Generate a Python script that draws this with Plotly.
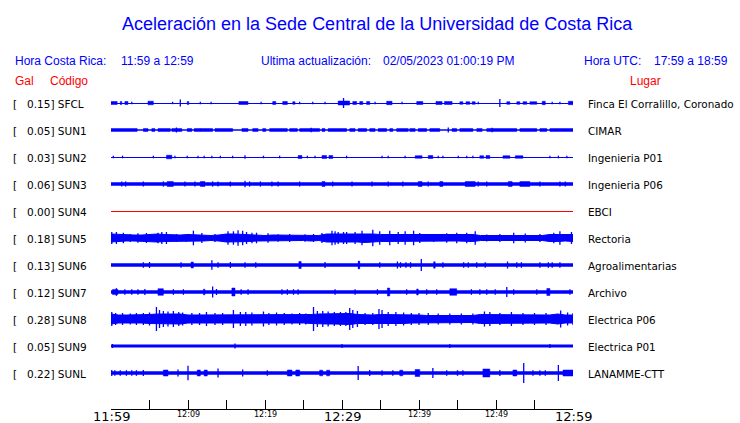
import plotly.graph_objects as go

# ---------------- data ----------------
STATIONS = ["SFCL", "SUN1", "SUN2", "SUN3", "SUN4", "SUN5", "SUN6", "SUN7", "SUN8", "SUN9", "SUNL"]
GAL = [0.15, 0.05, 0.03, 0.06, 0.00, 0.18, 0.13, 0.12, 0.28, 0.05, 0.22]
PLACES = ["Finca El Corralillo, Coronado", "CIMAR", "Ingenieria P01", "Ingenieria P06", "EBCI",
          "Rectoria", "Agroalimentarias", "Archivo", "Electrica P06", "Electrica P01", "LANAMME-CTT"]

TICK_MINUTES = [0, 5, 10, 15, 20, 25, 30, 35, 40, 45, 50, 55, 60]
TICK_LABELS = ["11:59", "", "12:09", "", "12:19", "", "12:29", "", "12:39", "", "12:49", "", "12:59"]
BIG_LABELS = ["11:59", "12:29", "12:59"]

# baseline half-amplitude of each trace (display units), None = envelope trace
BASE_AMP = [0.5, 0.75, 0.5, 1.7, 0.5, None, 1.8, 1.8, None, 1.5, 1.8]

# per-minute core envelope (minute 0..60) for the noisiest stations
SUN5_ENV = [4, 3.5, 3, 3, 3, 3.5, 4, 3.5, 3, 3, 3.5, 3, 3, 2.5, 3, 4, 4, 3.5, 3.5, 3, 2.5,
            3, 3, 2.5, 2.5, 2.5, 3, 2.5, 4, 4, 4, 4, 4, 4.5, 4, 3.5, 3.5, 3.5, 3.5, 3.5, 3,
            3, 3, 3, 3, 3, 3, 3.5, 2.5, 2.5, 2.5, 2.5, 3, 2.5, 2.5, 2.5, 2.5, 3.5, 3.5, 3, 3.5]
SUN8_ENV = [5, 4, 4, 4, 4, 4.5, 5, 5, 5, 5, 4, 4, 4.5, 4, 4, 4, 4.5, 4.5, 4.5, 4.5, 4.5,
            4, 4, 4, 4, 4, 4.5, 5, 5, 5, 5, 5.5, 4.5, 4, 4, 4.5, 4.5, 4.5, 4.5, 4, 4,
            3.5, 3.5, 3.5, 3.5, 3.5, 3.5, 3.5, 4.5, 4.5, 4, 4, 4, 4, 4, 4, 4, 4, 5, 4, 4]

# spikes: (minute, half-amplitude)
SFCL_SPIKES = [(2.7, 1.3), (8.0, 1.2), (9.0, 3.5), (11.6, 1.2), (13.0, 1.3), (19.5, 1.2), (24.5, 1.3),
               (26.2, 1.3), (27.8, 1.2), (30.2, 5.0), (34.3, 1.3), (37.8, 1.3), (47.7, 1.3), (50.5, 4.0),
               (57.3, 1.3), (58.3, 1.3)]
SUN1_SPIKES = [(8.5, 2.5), (26.0, 2.2), (43.8, 2.5), (49.5, 2.3)]
SUN2_SPIKES = [(0.3, 1.3), (1.5, 1.3), (5.5, 1.3), (8.3, 1.3), (9.9, 1.3), (11.3, 1.3), (12.1, 1.3),
               (13.1, 1.3), (14.2, 1.3), (15.8, 1.3), (17.4, 1.7), (19.8, 1.3), (21.9, 1.3), (25.5, 1.3),
               (26.5, 1.3), (30.6, 1.3), (35.2, 1.3), (36.0, 1.3), (38.2, 1.3), (42.5, 1.3), (43.1, 1.3),
               (45.1, 1.3), (46.2, 1.3), (47.0, 1.3), (57.0, 1.3), (58.1, 1.3), (59.2, 1.3)]
SUN3_SPIKES = [(1.4, 2.6), (1.9, 2.6), (4.2, 2.6), (6.8, 2.6), (9.6, 2.6), (10.9, 2.6), (13.2, 2.6),
               (13.9, 2.6), (15.5, 2.6), (17.4, 3.2), (18.0, 2.6), (19.4, 2.6), (20.9, 2.6), (21.7, 2.6),
               (24.5, 2.6), (28.8, 2.6), (31.3, 2.6), (33.9, 2.6), (36.0, 2.6), (37.9, 2.6), (41.2, 2.6),
               (47.7, 2.6), (48.8, 2.6), (55.7, 2.6), (58.3, 2.6), (59.0, 2.6)]
SUN4_SPIKES = []
SUN5_SPIKES = [(0.1, 6), (0.7, 6), (1.6, 5.3), (2.5, 4), (3.5, 4.7), (4.6, 5), (6.1, 5.3), (6.6, 6),
               (7.2, 6), (8.5, 4), (9.8, 3.8), (10.7, 7.3), (11.8, 5), (13.5, 4), (15.2, 6.7), (15.9, 6.7),
               (16.5, 7.7), (17.1, 7.3), (17.6, 6), (18.3, 5.3), (18.9, 5.3), (20.4, 4.7), (21.7, 3.8),
               (23.2, 4), (25.2, 3.8), (26.3, 4), (27.4, 5), (28.7, 7.3), (29.1, 6.7), (29.5, 6),
               (30.2, 6), (30.6, 6), (31.7, 6), (32.6, 7.3), (34.0, 8.3), (34.9, 6.7), (36.2, 7.3),
               (37.3, 6), (38.2, 6.7), (39.3, 7.3), (40.1, 5), (41.9, 4), (43.6, 4.7), (44.9, 5.3),
               (46.2, 5.3), (47.3, 6.7), (48.8, 3.5), (50.5, 4), (52.3, 5.3), (53.8, 4.5), (55.7, 4),
               (57.5, 5.3), (58.3, 6.7), (59.8, 6)]
SUN6_SPIKES = [(4.2, 2.7), (5.0, 3.0), (9.1, 2.8), (13.1, 4.7), (13.9, 2.8), (15.5, 3.0), (17.4, 2.8),
               (18.8, 2.8), (27.8, 3.0), (32.2, 4.0), (34.9, 2.8), (37.2, 3.5), (37.6, 2.8), (38.3, 2.8),
               (38.9, 2.8), (40.3, 6.0), (43.1, 2.8), (45.8, 2.8), (46.4, 2.8), (47.5, 2.8), (48.6, 2.8),
               (51.5, 3.5), (52.7, 2.8), (53.3, 2.8), (55.7, 2.8), (56.8, 2.8), (57.3, 2.8), (58.3, 2.8)]
SUN7_SPIKES = [(0.7, 3.8), (1.8, 2.7), (2.7, 2.7), (3.5, 2.7), (4.4, 3.0), (8.1, 2.8), (9.4, 2.8),
               (13.2, 5.5), (13.7, 3.0), (16.9, 2.8), (17.8, 2.8), (22.2, 2.8), (22.9, 2.8), (23.7, 2.8),
               (24.3, 2.8), (29.1, 2.8), (31.7, 2.8), (34.6, 2.8), (38.4, 2.8), (41.0, 2.8), (42.3, 2.8),
               (46.8, 2.8), (47.9, 2.8), (48.8, 2.8), (49.9, 2.8), (51.4, 5.0), (52.3, 2.8), (55.3, 2.8),
               (59.6, 2.8)]
SUN8_SPIKES = [(0.1, 7), (0.6, 6), (1.5, 6), (2.5, 5.5), (3.3, 6), (4.2, 6), (5.0, 6.5), (5.9, 12),
               (6.3, 9), (6.8, 8), (7.4, 7.5), (8.1, 8), (8.8, 7), (9.3, 6.5), (10.5, 6), (11.5, 6),
               (12.4, 7), (13.5, 6), (14.5, 6), (15.9, 9), (16.8, 7), (17.5, 7), (18.3, 6.5), (19.8, 7.5),
               (20.5, 6), (21.5, 6.5), (22.5, 6), (23.5, 5.5), (24.5, 6), (25.3, 5.5), (26.3, 12),
               (26.8, 8), (27.5, 8), (28.2, 7.5), (29.0, 7), (29.8, 7), (30.5, 7), (31.0, 11), (31.4, 9),
               (32.0, 8), (33.0, 6), (34.0, 6), (34.8, 10), (35.2, 9), (36.0, 7), (37.0, 7), (38.0, 6.5),
               (39.0, 6), (40.0, 6), (41.2, 6), (42.5, 5.5), (44.0, 5.5), (45.5, 5.5), (47.0, 5.5),
               (48.5, 7.5), (49.2, 7), (50.5, 6), (52.0, 7), (53.5, 6), (55.0, 6), (56.5, 6), (58.4, 8.5),
               (59.3, 6.5), (60.0, 6)]
SUN9_SPIKES = [(0.2, 2.0), (16.1, 2.5), (30.0, 1.9), (44.0, 1.9), (57.0, 2.0)]
SUNL_SPIKES = [(0.1, 3.0), (0.5, 2.8), (1.2, 2.8), (2.0, 2.8), (2.7, 2.8), (3.3, 2.8), (4.2, 3.0),
               (8.7, 3.5), (10.0, 7.3), (13.9, 4.5), (17.1, 3.5), (20.3, 2.8), (32.1, 7.0), (33.6, 3.0),
               (35.2, 2.8), (36.6, 2.8), (41.8, 5.0), (43.6, 2.8), (45.0, 2.8), (45.7, 2.8), (50.5, 3.0),
               (53.6, 10.0), (54.8, 2.8), (55.7, 2.8), (56.4, 2.8), (58.1, 8.0)]

# bursts: (start minute, end minute, half-amplitude)
SFCL_BLOCKS = [(0, 0.8, 1.5), (1.2, 1.4, 1.5), (1.8, 2.2, 1.5), (4.8, 5.5, 1.8), (9.9, 10.1, 1.5),
               (16.6, 17.8, 1.5), (21.0, 21.4, 1.5), (22.3, 22.9, 1.5), (23.6, 23.9, 1.3), (29.5, 31.0, 2.0),
               (31.4, 31.9, 1.5), (32.3, 32.7, 1.5), (33.2, 33.6, 1.5), (35.8, 36.5, 1.7), (39.7, 40.5, 1.5),
               (42.2, 43.0, 1.5), (43.3, 44.3, 1.5), (45.3, 45.7, 1.3), (46.1, 46.6, 1.3), (46.9, 47.3, 1.3),
               (51.4, 51.8, 1.3), (52.7, 53.1, 1.3), (53.5, 54.0, 1.3), (54.4, 55.3, 1.3), (56.0, 56.4, 1.7),
               (59.4, 60.0, 1.7)]
SUN1_BLOCKS = [(0, 3.4, 1.4), (4.2, 4.8, 1.4), (5.3, 5.7, 1.4), (6.1, 7.7, 1.4), (7.9, 9.2, 1.4),
               (9.9, 10.5, 1.4), (10.8, 11.6, 1.4), (11.6, 13.2, 1.4), (13.5, 15.8, 1.4), (17.0, 17.8, 1.4),
               (18.4, 19.1, 1.4), (19.7, 20.1, 1.4), (20.6, 22.9, 1.4), (23.2, 24.2, 1.4), (24.5, 27.1, 1.4),
               (27.4, 27.8, 1.4), (28.2, 30.6, 1.4), (31.0, 31.7, 1.4), (32.1, 33.2, 1.4), (33.6, 34.3, 1.4),
               (34.7, 35.8, 1.4), (36.2, 36.6, 1.4), (37.1, 38.6, 1.4), (38.8, 39.5, 1.4), (39.9, 41.0, 1.4),
               (41.4, 42.7, 1.4), (44.3, 44.9, 1.4), (45.3, 47.0, 1.4), (47.5, 48.2, 1.4), (48.8, 52.7, 1.4),
               (53.1, 55.3, 1.4), (55.7, 56.6, 1.4), (57.0, 60.0, 1.4)]
SUN2_BLOCKS = [(7.2, 7.9, 1.8), (24.3, 24.8, 1.5), (27.4, 28.0, 1.5), (28.3, 28.8, 1.5), (39.5, 40.4, 1.3),
               (41.2, 41.8, 1.5), (47.9, 48.4, 1.3), (48.7, 49.2, 1.5), (50.9, 51.8, 1.3), (52.5, 53.5, 1.3)]
SUN3_BLOCKS = [(7.3, 8.1, 2.4), (11.6, 12.2, 2.4), (27.4, 27.8, 2.4), (39.9, 40.4, 2.4), (42.7, 43.1, 2.4),
               (46.0, 47.3, 2.4), (51.6, 52.1, 2.4), (53.1, 54.4, 2.4)]
SUN4_BLOCKS = []
SUN5_BLOCKS = []
SUN6_BLOCKS = [(10.4, 10.7, 3.0), (24.4, 24.7, 3.5), (32.1, 32.3, 3.8), (41.9, 42.1, 3.2)]
SUN7_BLOCKS = [(0.2, 0.9, 2.6), (6.1, 6.8, 3.3), (12.0, 12.2, 2.8), (15.7, 16.1, 4.0), (35.9, 36.2, 4.0),
               (39.7, 39.9, 3.0), (44.0, 44.9, 3.3), (56.6, 57.0, 3.5)]
SUN8_BLOCKS = []
SUN9_BLOCKS = []
SUNL_BLOCKS = [(6.8, 7.4, 3.0), (11.2, 11.6, 3.0), (12.1, 12.5, 3.0), (22.9, 23.5, 3.0), (24.0, 24.5, 3.0),
               (27.1, 27.5, 2.8), (28.0, 28.4, 2.8), (37.5, 37.9, 2.8), (39.5, 40.1, 3.5), (48.3, 49.2, 4.0),
               (52.2, 52.7, 3.0), (58.7, 60.0, 3.0)]

SPIKES = [SFCL_SPIKES, SUN1_SPIKES, SUN2_SPIKES, SUN3_SPIKES, SUN4_SPIKES, SUN5_SPIKES,
          SUN6_SPIKES, SUN7_SPIKES, SUN8_SPIKES, SUN9_SPIKES, SUNL_SPIKES]
BLOCKS = [SFCL_BLOCKS, SUN1_BLOCKS, SUN2_BLOCKS, SUN3_BLOCKS, SUN4_BLOCKS, SUN5_BLOCKS,
          SUN6_BLOCKS, SUN7_BLOCKS, SUN8_BLOCKS, SUN9_BLOCKS, SUNL_BLOCKS]
ENVELOPES = {"SUN5": SUN5_ENV, "SUN8": SUN8_ENV}

# ---------------- layout constants ----------------
W, H = 740, 423
PL, PR, PT, PB = 111, 573, 90, 409   # plot area in pixels
ROW0, ROW_STEP = 103, 27
BLUE, RED = "#0000ff", "#ff0000"


def xp(px):
    return (px - PL) / (PR - PL)


def yp(py):
    return (PB - py) / (PB - PT)


fig = go.Figure()

for i, st in enumerate(STATIONS):
    c = ROW0 + i * ROW_STEP
    color = RED if st == "SUN4" else BLUE
    if st in ENVELOPES:
        env = ENVELOPES[st]
        mins = list(range(len(env)))
        xs = mins + mins[::-1] + [mins[0]]
        ys = [c - a for a in env] + [c + a for a in env[::-1]] + [c - env[0]]
        fig.add_trace(go.Scatter(x=xs, y=ys, mode="lines", fill="toself", fillcolor=color,
                                 line=dict(color=color, width=1), hoverinfo="skip"))
    else:
        b = BASE_AMP[i]
        lw = max(1.0, 2 * b)
        yc = c + 0.5 if lw <= 1.0 else c   # keep hairlines on a pixel row
        fig.add_trace(go.Scatter(x=[0, 60], y=[yc, yc], mode="lines",
                                 line=dict(color=color, width=lw), hoverinfo="skip"))
    if BLOCKS[i]:
        bx, by = [], []
        for t0, t1, h in BLOCKS[i]:
            bx += [t0, t1, t1, t0, t0, None]
            by += [c - h, c - h, c + h, c + h, c - h, None]
        fig.add_trace(go.Scatter(x=bx, y=by, mode="lines", fill="toself", fillcolor=color,
                                 line=dict(color=color, width=0.5), hoverinfo="skip"))
    if SPIKES[i]:
        sx, sy = [], []
        for t, h in SPIKES[i]:
            sx += [t, t, None]
            sy += [c - h, c + h, None]
        fig.add_trace(go.Scatter(x=sx, y=sy, mode="lines",
                                 line=dict(color=color, width=1.3), hoverinfo="skip"))

ann = []


def text(s, px, py, size, color, family, anchor="left"):
    ann.append(dict(text=s, x=xp(px), y=yp(py), xref="paper", yref="paper", showarrow=False,
                    xanchor=anchor, yanchor="middle", borderpad=0, borderwidth=0,
                    font=dict(size=size, color=color, family=family)))


SANS = "Liberation Sans, Arial, sans-serif"
DJ = "DejaVu Sans, sans-serif"

text("Aceleración en la Sede Central de la Universidad de Costa Rica", 377, 24, 18, BLUE, SANS, "center")
text("Hora Costa Rica:", 15, 61, 12, BLUE, SANS)
text("11:59 a 12:59", 120.5, 61, 12, BLUE, SANS)
text("Ultima actualización:", 261, 61, 12, BLUE, SANS)
text("02/05/2023 01:00:19 PM", 382.5, 61, 12, BLUE, SANS)
text("Hora UTC:", 583.5, 61, 12, BLUE, SANS)
text("17:59 a 18:59", 653.5, 61, 12, BLUE, SANS)
text("Gal", 15, 80.5, 12, RED, SANS)
text("Código", 50, 80.5, 12, RED, SANS)
text("Lugar", 630, 80.5, 12, RED, SANS)

for i, st in enumerate(STATIONS):
    c = ROW0 + i * ROW_STEP
    text("[", 12.7, c + 0.5, 10.5, "black", DJ)
    text(f"{GAL[i]:.2f}] {st}", 27.3, c + 0.5, 10.5, "black", DJ)
    text(PLACES[i], 587.5, c + 0.5, 10.4, "black", DJ)

for m, lab in zip(TICK_MINUTES, TICK_LABELS):
    if not lab:
        continue
    big = lab in BIG_LABELS
    px = PL + (PR - PL) * m / 60
    text(lab, px, 416 if big else 414, 13 if big else 8, "black", DJ, "center")

fig.update_layout(
    width=W, height=H,
    margin=dict(l=PL, r=W - PR, t=PT, b=H - PB, pad=0),
    paper_bgcolor="white", plot_bgcolor="white",
    showlegend=False,
    annotations=ann,
    xaxis=dict(range=[0, 60], showgrid=False, zeroline=False, showline=True, linecolor="black",
               linewidth=1, ticks="inside", ticklen=9, tickwidth=1, tickcolor="black",
               tickvals=TICK_MINUTES, showticklabels=False, fixedrange=True),
    yaxis=dict(range=[PB, PT], visible=False, showgrid=False, zeroline=False, fixedrange=True),
)

fig.write_html("out.html", config={"displayModeBar": False, "staticPlot": True},
               post_script="document.body.style.margin='0';document.body.style.padding='0';"
                           "document.body.style.overflow='hidden';")
